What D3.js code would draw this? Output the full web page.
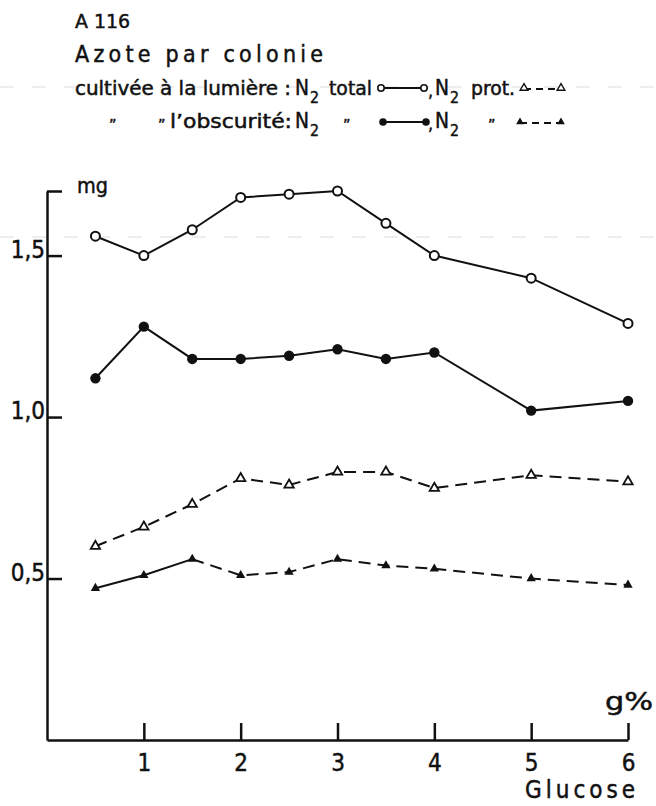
<!DOCTYPE html>
<html>
<head>
<meta charset="utf-8">
<script src="https://cdn.jsdelivr.net/npm/d3@7"></script>
<style>
  body { margin: 0; background: #fff; }
  svg { display: block; }
  text { font-family: "DejaVu Sans", "Liberation Sans", sans-serif; font-stretch: condensed; fill: #111; stroke: #111; stroke-width: 0.45; }
</style>
</head>
<body>
<svg></svg>
<script>
// Glucose concentration (g%) on the x axis
var glucose = [0.5, 1, 1.5, 2, 2.5, 3, 3.5, 4, 5, 6];

// mg of nitrogen per colony
var totalLight = [1.56, 1.50, 1.58, 1.68, 1.69, 1.70, 1.60, 1.50, 1.43, 1.29]; // N2 total, lumière
var totalDark  = [1.12, 1.28, 1.18, 1.18, 1.19, 1.21, 1.18, 1.20, 1.02, 1.05]; // N2 total, obscurité
var protLight  = [0.60, 0.66, 0.73, 0.81, 0.79, 0.83, 0.83, 0.78, 0.82, 0.80]; // N2 prot., lumière
var protDark   = [0.47, 0.51, 0.56, 0.51, 0.52, 0.56, 0.54, 0.53, 0.50, 0.48]; // N2 prot., obscurité
var protDarkSolidTo = 1.5; // solid line up to this glucose value, dashed after

var xTicks = [1, 2, 3, 4, 5, 6];
var yTicks = [0.5, 1.0, 1.5, 1.7];
var yTickLabels = ["0,5", "1,0", "1,5", ""];

var width = 656, height = 806;
var svg = d3.select("svg").attr("width", width).attr("height", height);

// faint scan lines on the paper
[87, 237].forEach(function(yy) {
  svg.append("line").attr("x1", 0).attr("x2", width).attr("y1", yy).attr("y2", yy)
     .attr("stroke", "#dcdcdc").attr("stroke-width", 1).attr("stroke-dasharray", "14,18");
});

var x = d3.scaleLinear().domain([0, 6]).range([47, 628]);
var y = d3.scaleLinear().domain([0, 1.7]).range([740, 191]);

// axes, ticks pointing inward
var yAxis = d3.axisLeft(y).tickValues(yTicks).tickSize(-15).tickSizeOuter(0).tickPadding(2)
              .tickFormat(function(d, i) { return yTickLabels[i]; });
var gy = svg.append("g").attr("transform", "translate(" + x(0) + ",0)").call(yAxis);
gy.selectAll("text").attr("dy", "0.08em").style("font-size", "24px");

var xAxis = d3.axisBottom(x).tickValues(xTicks).tickFormat(d3.format("d"))
              .tickSize(-17).tickSizeOuter(0).tickPadding(14);
var gx = svg.append("g").attr("transform", "translate(0," + y(0) + ")").call(xAxis);
gx.selectAll("text").style("font-size", "24px");

svg.selectAll(".domain, .tick line").attr("stroke", "#111").attr("stroke-width", 2.5);
svg.selectAll(".tick text").attr("fill", "#111").attr("stroke", "#111").style("font-family", null);

svg.append("text").attr("x", 77).attr("y", 193).style("font-size", "21px")
   .attr("textLength", 31).attr("lengthAdjust", "spacingAndGlyphs").text("mg");
svg.append("text").attr("x", 605).attr("y", 710).style("font-size", "24px")
   .attr("textLength", 48).attr("lengthAdjust", "spacingAndGlyphs").text("g%");
svg.append("text").attr("x", 525).attr("y", 798).style("font-size", "24px")
   .attr("textLength", 110).attr("lengthAdjust", "spacing").text("Glucose");

// series
function pts(vals) { return glucose.map(function(g, i) { return [g, vals[i]]; }); }
var line = d3.line().x(function(d) { return x(d[0]); }).y(function(d) { return y(d[1]); });
var tri = d3.symbol().type(d3.symbolTriangle).size(38);
var triSmall = d3.symbol().type(d3.symbolTriangle).size(26);

function drawLine(data, dashed) {
  svg.append("path").attr("d", line(data)).attr("fill", "none")
     .attr("stroke", "#111").attr("stroke-width", 2)
     .attr("stroke-dasharray", dashed ? "12,7" : null);
}

drawLine(pts(totalLight), false);
drawLine(pts(totalDark), false);
drawLine(pts(protLight), true);
var pd = pts(protDark);
drawLine(pd.filter(function(d) { return d[0] <= protDarkSolidTo; }), false);
drawLine(pd.filter(function(d) { return d[0] >= protDarkSolidTo; }), true);

svg.append("g").selectAll("circle").data(pts(totalLight)).enter().append("circle")
   .attr("cx", function(d) { return x(d[0]); }).attr("cy", function(d) { return y(d[1]); })
   .attr("r", 4.5).attr("fill", "#fff").attr("stroke", "#111").attr("stroke-width", 2);
svg.append("g").selectAll("circle").data(pts(totalDark)).enter().append("circle")
   .attr("cx", function(d) { return x(d[0]); }).attr("cy", function(d) { return y(d[1]); })
   .attr("r", 5.2).attr("fill", "#111");
svg.append("g").selectAll("path").data(pts(protLight)).enter().append("path")
   .attr("d", tri).attr("transform", function(d) { return "translate(" + x(d[0]) + "," + y(d[1]) + ")"; })
   .attr("fill", "#fff").attr("stroke", "#111").attr("stroke-width", 1.8);
svg.append("g").selectAll("path").data(pd).enter().append("path")
   .attr("d", tri).attr("transform", function(d) { return "translate(" + x(d[0]) + "," + y(d[1]) + ")"; })
   .attr("fill", "#111");

// header
function txt(xx, yy, s, size, len) {
  var t = svg.append("text").attr("x", xx).attr("y", yy).style("font-size", size + "px").text(s);
  if (len) t.attr("textLength", len).attr("lengthAdjust", "spacingAndGlyphs");
  return t;
}
txt(75, 28, "A 116", 20, 55);
svg.append("text").attr("x", 75).attr("y", 62).style("font-size", "23px")
   .attr("textLength", 248).attr("lengthAdjust", "spacing").text("Azote par colonie");

function n2(xx, yy) {
  txt(xx, yy, "N", 21, 14);
  txt(xx + 15, yy + 8, "2", 16, 9);
}
function legendSample(x1, x2, yy, kind) {
  svg.append("line").attr("x1", x1).attr("x2", x2).attr("y1", yy).attr("y2", yy)
     .attr("stroke", "#111").attr("stroke-width", 2)
     .attr("stroke-dasharray", kind.dashed ? "7,5" : null);
  [x1, x2].forEach(function(px) {
    if (kind.shape === "circle") {
      svg.append("circle").attr("cx", px).attr("cy", yy).attr("r", kind.open ? 3.2 : 3.8)
         .attr("fill", kind.open ? "#fff" : "#111").attr("stroke", "#111").attr("stroke-width", kind.open ? 1.6 : 0);
    } else {
      svg.append("path").attr("d", triSmall).attr("transform", "translate(" + px + "," + (yy - 1) + ")")
         .attr("fill", kind.open ? "#fff" : "#111").attr("stroke", "#111").attr("stroke-width", kind.open ? 1.4 : 0);
    }
  });
}

// line 1: lumière
txt(75, 95, "cultivée à la lumière :", 19, 216);
n2(295, 95);
txt(329, 95, "total", 19, 43);
legendSample(381, 424, 88, { shape: "circle", open: true, dashed: false });
txt(428, 97, ",", 18);
n2(435, 95);
txt(471, 95, "prot.", 19, 44);
legendSample(524, 561, 89, { shape: "tri", open: true, dashed: true });

// line 2: obscurité
txt(109, 131, "\u201D", 16);
txt(158, 131, "\u201D", 16);
txt(170, 128, "l\u2019obscurité:", 19, 122);
n2(295, 128);
txt(343, 131, "\u201D", 16);
legendSample(383, 426, 122, { shape: "circle", open: false, dashed: false });
txt(428, 130, ",", 18);
n2(435, 128);
txt(488, 131, "\u201D", 16);
legendSample(520, 561, 123, { shape: "tri", open: false, dashed: true });
</script>
</body>
</html>
